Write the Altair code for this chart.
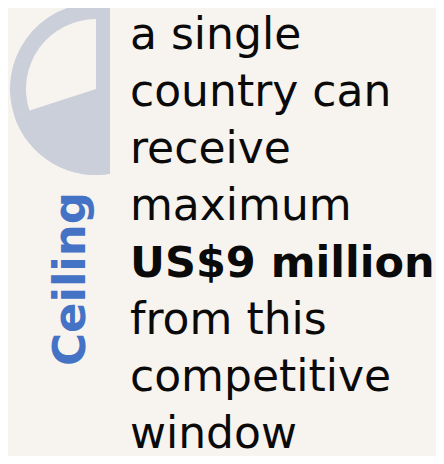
import altair as alt
import pandas as pd

# --- data ---
slice_parts = ["share", "rest"]
slice_values = [70, 30]

text_lines = ["a single", "country can", "receive", "maximum",
              "US$9 million", "from this", "competitive", "window"]
line_bold = [False, False, False, False, True, False, False, False]

side_label = "Ceiling"

BG = "#F7F3EE"
GRAY = "#CBCFD9"
BLUE = "#4472C4"

arc_df = pd.DataFrame({"part": slice_parts, "value": slice_values})
txt_df = pd.DataFrame({"line": text_lines, "row": list(range(len(text_lines))),
                       "bold": line_bold})

theta = alt.Theta("value:Q", stack=True)
order = alt.Order("row_order:Q")

base_arc = alt.Chart(arc_df).transform_calculate(
    row_order="datum.part == 'share' ? 0 : 1"
)

ring = base_arc.mark_arc(innerRadius=70, outerRadius=86, color=GRAY).encode(
    theta=theta, order=order,
    x=alt.value(88), y=alt.value(81),
)
wedge = base_arc.mark_arc(outerRadius=86, color=GRAY).encode(
    theta=theta, order=order,
    x=alt.value(88), y=alt.value(81),
    opacity=alt.condition(alt.datum.part == "share", alt.value(1), alt.value(0)),
)

mask = alt.Chart(arc_df).mark_rect(color=BG).encode(
    x=alt.value(102), x2=alt.value(200), y=alt.value(-10), y2=alt.value(180)
)

yscale = alt.Scale(domain=[0, len(text_lines) - 1], range=[41, 440])

regular = alt.Chart(txt_df).transform_filter("!datum.bold").mark_text(
    font="DejaVu Sans", fontSize=44, align="left", baseline="alphabetic",
    color="#0A0A0A",
).encode(
    x=alt.value(122),
    y=alt.Y("row:Q", scale=yscale, axis=None),
    text="line:N",
)
bold = alt.Chart(txt_df).transform_filter("datum.bold").mark_text(
    font="DejaVu Sans", fontSize=43, fontWeight="bold", align="left",
    baseline="alphabetic", color="#0A0A0A",
).encode(
    x=alt.value(122),
    y=alt.Y("row:Q", scale=yscale, axis=None),
    text="line:N",
)

ceiling = alt.Chart(pd.DataFrame({"label": [side_label]})).mark_text(
    font="DejaVu Sans", fontSize=45, fontWeight="bold", angle=270,
    align="center", baseline="alphabetic", color=BLUE,
).encode(
    x=alt.value(77), y=alt.value(271), text="label:N"
)

chart = alt.layer(ring, wedge, mask, regular, bold, ceiling).properties(
    width=428, height=448,
    autosize=alt.AutoSizeParams(type="none"),
    padding=0,
    background=BG,
).resolve_scale(y="shared").configure_view(stroke=None)

chart.save("out.html", embed_options={"renderer": "svg", "actions": False})
